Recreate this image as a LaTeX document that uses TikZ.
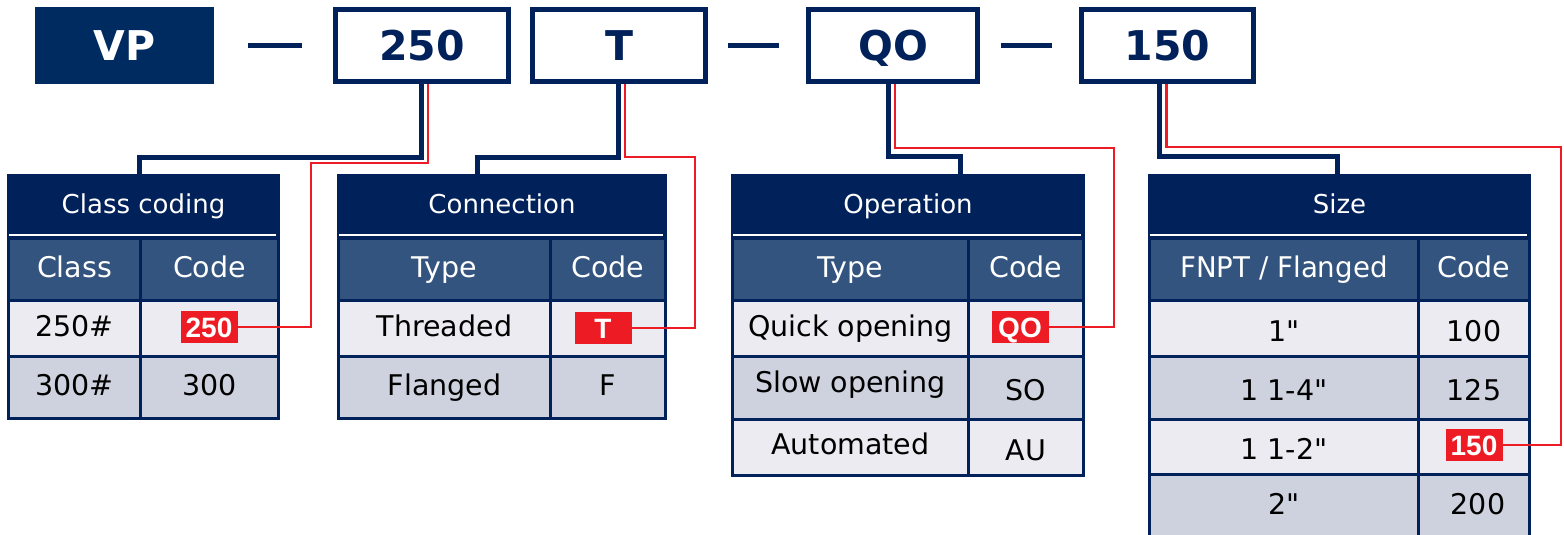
\documentclass[tikz,border=0pt]{standalone}
\usepackage{fontspec}
\newfontfamily\dvs{DejaVu Sans}
\newfontfamily\badgefont{Liberation Sans}
\definecolor{navy}{HTML}{01215A}
\definecolor{vpfill}{HTML}{002B60}
\definecolor{colhead}{HTML}{33547F}
\definecolor{rowlight}{HTML}{ECEBF2}
\definecolor{rowdark}{HTML}{CDD2DE}
\definecolor{codered}{HTML}{ED1C24}

\tikzset{
  cell/.style={draw=navy, line width=3pt, inner sep=0pt, anchor=north west,
    text height=20.8pt, text depth=5.7pt, font=\dvs\fontsize{28.5}{30}\selectfont},
  titlecell/.style={cell, fill=navy, text=white, text height=19pt, text depth=5.2pt,
    font=\dvs\fontsize{26}{28}\selectfont},
  colhd/.style={cell, fill=colhead, text=white},
  rowa/.style={cell, fill=rowlight, text=black},
  rowb/.style={cell, fill=rowdark, text=black},
  codebox/.style={draw=navy, line width=5pt, fill=white, inner sep=0pt, text=navy,
    minimum height=72pt, font=\dvs\fontsize{41}{44}\selectfont\bfseries,
    text height=30pt, text depth=0pt},
  vpbox/.style={fill=vpfill, inner sep=0pt, text=white, minimum width=179pt,
    minimum height=77pt, font=\dvs\fontsize{41}{44}\selectfont\bfseries,
    text height=30pt, text depth=0pt},
  badge/.style={fill=codered, text=white, inner sep=0pt, minimum width=57pt,
    minimum height=32pt, font=\badgefont\fontsize{28}{30}\selectfont\bfseries,
    text height=20pt, text depth=0pt},
  navyline/.style={draw=navy, line width=5pt},
  redline/.style={draw=codered, line width=2.5pt},
  sepline/.style={draw=white, line width=2pt},
  dashline/.style={draw=navy, line width=5pt},
}

% #1 style, #2 name, (#3,#4) top-left, (#5,#6) bottom-right, #7 text
\newcommand{\tabcell}[7]{%
  \node[#1, minimum width={#5pt-#3pt}, minimum height={#6pt-#4pt}] (#2) at (#3,#4) {#7};}
\newcommand{\low}[1]{\raisebox{-5pt}{#1}}

\begin{document}
\begin{tikzpicture}[x=1pt,y=-1pt]
\useasboundingbox (0,0) rectangle (1564,535);
\clip (0,0) rectangle (1564,535);
\fill[white] (0,0) rectangle (1564,535);

% ---- part number boxes ----
\node[vpbox] (vp) at (124.5,45.5) {VP};
\node[codebox, minimum width=173pt] (b250) at (422,45.5) {250};
\node[codebox, minimum width=173pt] (bT) at (619,45.5) {T};
\node[codebox, minimum width=169pt] (bQO) at (893,45.5) {QO};
\node[codebox, minimum width=172pt] (b150) at (1167.5,45.5) {150};

\draw[dashline] ([xshift=34pt]vp.east) -- ([xshift=-31.5pt]b250.west);
\draw[dashline] ([xshift=19.5pt]bT.east) -- ([xshift=-27.5pt]bQO.west);
\draw[dashline] ([xshift=20.5pt]bQO.east) -- ([xshift=-27.5pt]b150.west);

% ---- Class coding ----
\tabcell{titlecell}{hdA}{7}{174}{277}{236}{Class coding}
\tabcell{colhd}{chA1}{7}{237}{139}{299}{Class}
\tabcell{colhd}{chA2}{139}{237}{277}{299}{Code}
\tabcell{rowa}{rA1a}{7}{299}{139}{355}{250\#}
\tabcell{rowa}{rA1b}{139}{299}{277}{355}{}
\tabcell{rowb}{rA2a}{7}{355}{139}{417}{300\#}
\tabcell{rowb}{rA2b}{139}{355}{277}{417}{300}
\draw[sepline] (8.5,235) -- (275.5,235);

% ---- Connection ----
\tabcell{titlecell}{hdB}{337}{174}{664}{236}{Connection}
\tabcell{colhd}{chB1}{337}{237}{549}{299}{Type}
\tabcell{colhd}{chB2}{549}{237}{664}{299}{Code}
\tabcell{rowa}{rB1a}{337}{299}{549}{355}{Threaded}
\tabcell{rowa}{rB1b}{549}{299}{664}{355}{}
\tabcell{rowb}{rB2a}{337}{355}{549}{417}{Flanged}
\tabcell{rowb}{rB2b}{549}{355}{664}{417}{F}
\draw[sepline] (338.5,235) -- (662.5,235);

% ---- Operation ----
\tabcell{titlecell}{hdC}{731}{174}{1082}{236}{Operation}
\tabcell{colhd}{chC1}{731}{237}{967}{299}{Type}
\tabcell{colhd}{chC2}{967}{237}{1082}{299}{Code}
\tabcell{rowa}{rC1a}{731}{299}{967}{355}{Quick opening}
\tabcell{rowa}{rC1b}{967}{299}{1082}{355}{}
\tabcell{rowb}{rC2a}{731}{355}{967}{418}{\raisebox{3pt}{Slow opening}}
\tabcell{rowb}{rC2b}{967}{355}{1082}{418}{\low{SO}}
\tabcell{rowa}{rC3a}{731}{418}{967}{474}{\raisebox{1pt}{Automated}}
\tabcell{rowa}{rC3b}{967}{418}{1082}{474}{\low{AU}}
\draw[sepline] (732.5,235) -- (1080.5,235);

% ---- Size ----
\tabcell{titlecell}{hdD}{1148}{174}{1528}{236}{Size}
\tabcell{colhd}{chD1}{1148}{237}{1417}{299}{\scalebox{0.97}[1]{FNPT / Flanged}}
\tabcell{colhd}{chD2}{1417}{237}{1528}{299}{Code}
\tabcell{rowa}{rD1a}{1148}{299}{1417}{355}{\low{1"}}
\tabcell{rowa}{rD1b}{1417}{299}{1528}{355}{\low{100}}
\tabcell{rowb}{rD2a}{1148}{355}{1417}{418}{\low{1 1-4"}}
\tabcell{rowb}{rD2b}{1417}{355}{1528}{418}{\low{125}}
\tabcell{rowa}{rD3a}{1148}{418}{1417}{473}{\low{1 1-2"}}
\tabcell{rowa}{rD3b}{1417}{418}{1528}{473}{}
\tabcell{rowb}{rD4a}{1148}{473}{1417}{545}{\raisebox{4pt}{2"}}
\tabcell{rowb}{rD4b}{1417}{473}{1528}{545}{\raisebox{4pt}{\hspace{8pt}200}}
\draw[sepline] (1149.5,235) -- (1526.5,235);

% ---- selected code badges ----
\node[badge] (bdA) at (209,327) {250};
\node[badge] (bdB) at (603,328) {T};
\node[badge] (bdC) at (1020,327) {QO};
\node[badge] (bdD) at (1474,445) {150};

% ---- links from each code box to its table ----
\coordinate (jA) at (139,157);
\coordinate (jB) at (477,157);
\coordinate (jC) at (960,156);
\coordinate (jD) at (1337,156);
\draw[navyline] ([xshift=-0.5pt]b250.south) |- (jA) -- (jA |- hdA.north);
\draw[navyline] ([xshift=-1pt]bT.south) |- (jB) -- (jB |- hdB.north);
\draw[navyline] ([xshift=-5pt]bQO.south) |- (jC) -- (jC |- hdC.north);
\draw[navyline] ([xshift=-8pt]b150.south) |- (jD) -- (jD |- hdD.north);

% ---- red pointers to the selected codes ----
\coordinate (kA) at (311,163);
\coordinate (kB) at (695,157);
\coordinate (kC) at (1114,148);
\coordinate (kD) at (1561,147);
\draw[redline] ([xshift=6pt]b250.south) |- (kA) |- (bdA.east);
\draw[redline] ([xshift=6pt]bT.south) |- (kB) |- (bdB.east);
\draw[redline] ([xshift=2pt]bQO.south) |- (kC) |- (bdC.east);
\draw[redline] ([xshift=-1pt]b150.south) |- (kD) |- (bdD.east);
\end{tikzpicture}
\end{document}
